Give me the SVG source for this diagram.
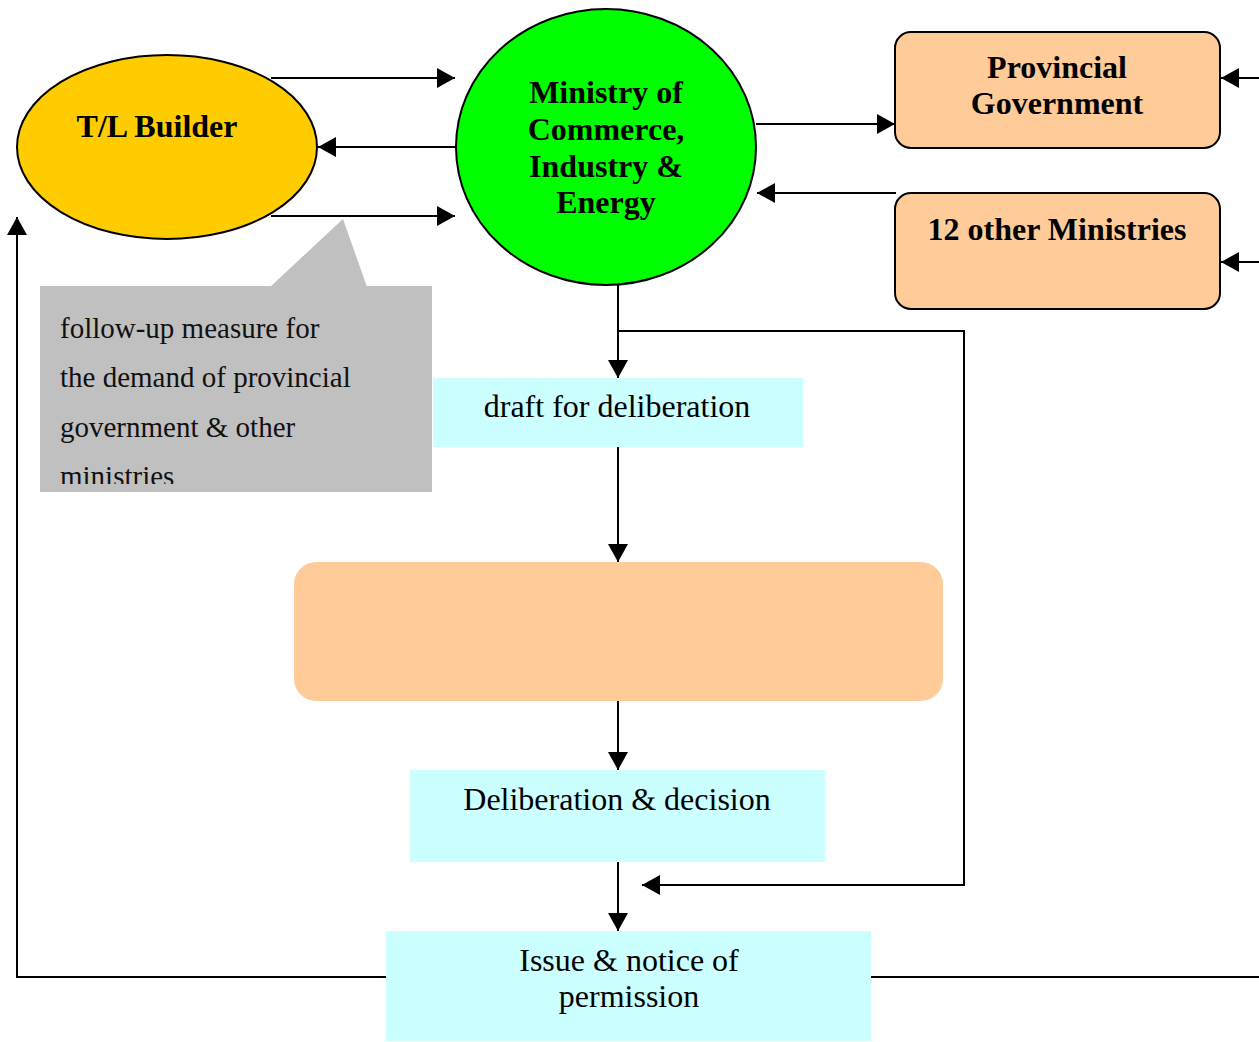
<svg xmlns="http://www.w3.org/2000/svg" width="1259" height="1042" viewBox="0 0 1259 1042">
<style>
.ln{fill:none;stroke:#000;stroke-width:2}
.b{font-family:"Liberation Serif","Times New Roman",serif;font-weight:bold;font-size:32px;fill:#000;text-anchor:middle}
.r{font-family:"Liberation Serif","Times New Roman",serif;font-size:32px;fill:#000;text-anchor:middle}
.c{font-family:"Liberation Serif","Times New Roman",serif;font-size:29px;fill:#111}
.cy{fill:#CCFFFF}
.or{fill:#FFCC99}
</style>
<defs>
<marker id="ah" markerUnits="userSpaceOnUse" markerWidth="20" markerHeight="20" refX="18" refY="10" orient="auto">
<path d="M0,0 L18,10 L0,20 z" fill="#000"/>
</marker>
<clipPath id="cc"><rect x="40" y="286" width="392" height="198"/></clipPath>
</defs>
<rect width="1259" height="1042" fill="#fff"/>
<g id="connectors">
<line class="ln" x1="271" y1="78" x2="455" y2="78" marker-end="url(#ah)"/>
<line class="ln" x1="456" y1="147" x2="318" y2="147" marker-end="url(#ah)"/>
<line class="ln" x1="271" y1="216" x2="455" y2="216" marker-end="url(#ah)"/>
<line class="ln" x1="756" y1="124" x2="895" y2="124" marker-end="url(#ah)"/>
<line class="ln" x1="896" y1="193" x2="757" y2="193" marker-end="url(#ah)"/>
<line class="ln" x1="1259" y1="78" x2="1221" y2="78" marker-end="url(#ah)"/>
<line class="ln" x1="1259" y1="262" x2="1221" y2="262" marker-end="url(#ah)"/>
<line class="ln" x1="618" y1="285" x2="618" y2="378" marker-end="url(#ah)"/>
<line class="ln" x1="618" y1="447" x2="618" y2="562" marker-end="url(#ah)"/>
<line class="ln" x1="618" y1="701" x2="618" y2="770" marker-end="url(#ah)"/>
<line class="ln" x1="618" y1="862" x2="618" y2="931" marker-end="url(#ah)"/>
<polyline class="ln" points="618,331 964,331 964,885 642,885" marker-end="url(#ah)"/>
<polyline class="ln" points="386,977 17,977 17,217" marker-end="url(#ah)"/>
<line class="ln" x1="871" y1="977" x2="1259" y2="977"/>
</g>
<g id="tl-builder">
<ellipse cx="167" cy="147" rx="150" ry="92" fill="#FFCC00" stroke="#000" stroke-width="2"/>
<text class="b" x="157" y="137">T/L Builder</text>
</g>
<g id="ministry">
<ellipse cx="606" cy="147" rx="150" ry="138" fill="#00FF00" stroke="#000" stroke-width="2"/>
<text class="b" x="606" y="103">Ministry of</text>
<text class="b" x="606" y="140">Commerce,</text>
<text class="b" x="606" y="177">Industry &amp;</text>
<text class="b" x="606" y="213">Energy</text>
</g>
<g id="provincial">
<rect x="895" y="32" width="325" height="116" rx="16" class="or" stroke="#000" stroke-width="2"/>
<text class="b" x="1057" y="78">Provincial</text>
<text class="b" x="1057" y="114">Government</text>
</g>
<g id="other-ministries">
<rect x="895" y="193" width="325" height="116" rx="16" class="or" stroke="#000" stroke-width="2"/>
<text class="b" x="1057" y="240">12 other Ministries</text>
</g>
<g id="callout">
<rect x="40" y="286" width="392" height="206" fill="#C0C0C0"/>
<polygon points="270,287 343,219 367,287" fill="#C0C0C0"/>
<g clip-path="url(#cc)">
<text class="c" x="60" y="338">follow-up measure for</text>
<text class="c" x="60" y="387">the demand of provincial</text>
<text class="c" x="60" y="437">government &amp; other</text>
<text class="c" x="60" y="486">ministries</text>
</g>
</g>
<g id="draft">
<rect x="433" y="378" width="370" height="69" class="cy"/>
<text class="r" x="617" y="417">draft for deliberation</text>
</g>
<g id="orange-box">
<rect x="294" y="562" width="649" height="139" rx="22" class="or"/>
</g>
<g id="deliberation">
<rect x="410" y="770" width="415" height="92" class="cy"/>
<text class="r" x="617" y="810">Deliberation &amp; decision</text>
</g>
<g id="issue">
<rect x="386" y="931" width="485" height="110" class="cy"/>
<text class="r" x="629" y="971">Issue &amp; notice of</text>
<text class="r" x="629" y="1007">permission</text>
</g>
</svg>
